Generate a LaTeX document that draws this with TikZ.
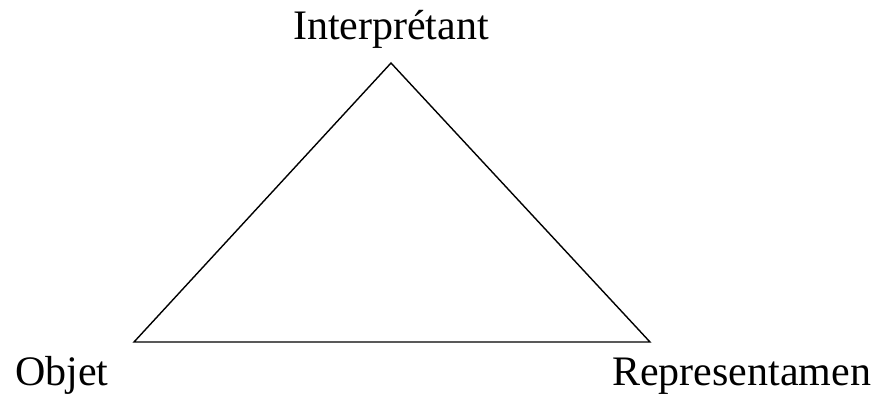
\documentclass[tikz,border=0pt]{standalone}
\usepackage{fontspec}
\setmainfont{Liberation Serif}
\begin{document}
\begin{tikzpicture}[x=1pt,y=-1pt,
  lbl/.style={inner sep=0pt,font=\fontsize{42}{50}\selectfont},
  edge/.style={line width=1.4pt,line join=miter}]
\useasboundingbox (0,0) rectangle (877,396);
\coordinate (T) at (391,63);
\coordinate (L) at (134,342);
\coordinate (R) at (650,342);
\draw[edge] (T) -- (L) -- (R) -- cycle;
\node[lbl,anchor=base] (interp) at (391,40) {Interprétant};
\node[lbl,anchor=base west] (objet) at (15,385) {Objet};
\node[lbl,anchor=base west] (repr) at (612,385) {Representamen};
\end{tikzpicture}
\end{document}
